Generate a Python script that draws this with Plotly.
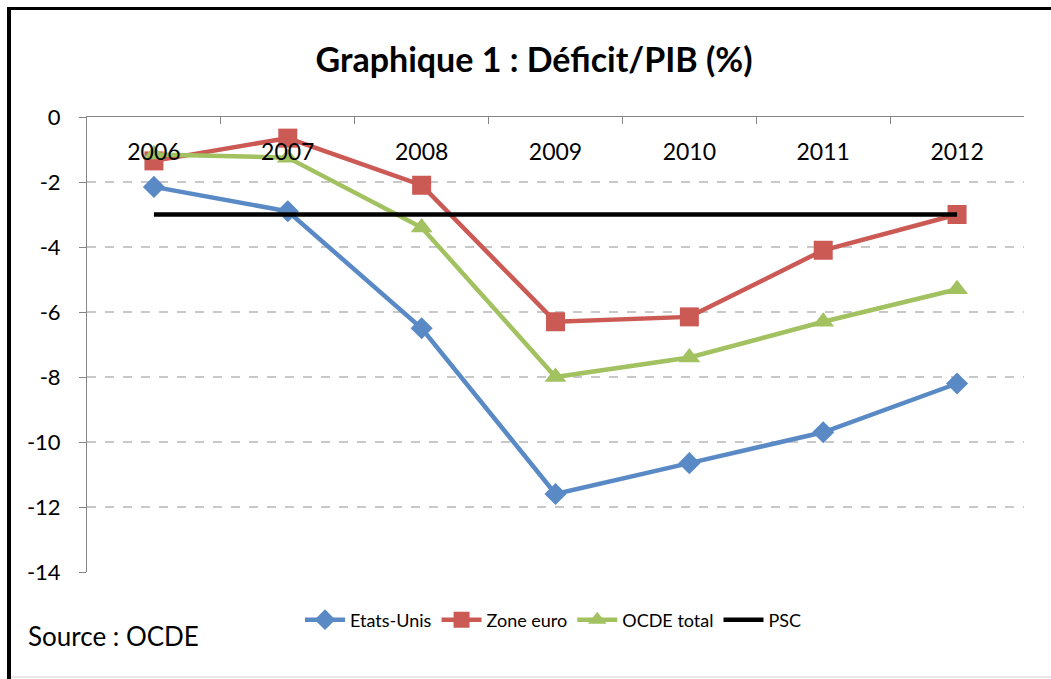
import plotly.graph_objects as go

years = ["2006", "2007", "2008", "2009", "2010", "2011", "2012"]
etats_unis = [-2.15, -2.9, -6.5, -11.6, -10.65, -9.7, -8.2]
zone_euro = [-1.35, -0.65, -2.1, -6.3, -6.15, -4.1, -3.0]
ocde_total = [-1.15, -1.25, -3.4, -8.0, -7.4, -6.3, -5.3]
psc = [-3, -3, -3, -3, -3, -3, -3]
y_ticks = [0, -2, -4, -6, -8, -10, -12, -14]
y_tick_labels = ["0", "-2", "-4", "-6", "-8", "-10", "-12", "-14"]

W, H = 1051, 679
L, R, T, B = 87, 27, 117, 107
pw, ph = W - L - R, H - T - B

def px_x(x):
    return (x - L) / pw

def px_y(y):
    return (H - B - y) / ph

FONT = "Lato, 'Open Sans', sans-serif"

fig = go.Figure()
fig.add_trace(go.Scatter(x=years, y=etats_unis, name="Etats-Unis", mode="lines+markers",
                         line=dict(color="#5A8AC6", width=4.5),
                         marker=dict(symbol="diamond", size=17, color="#5A8AC6")))
fig.add_trace(go.Scatter(x=years, y=zone_euro, name="Zone euro", mode="lines+markers",
                         line=dict(color="#CB5A55", width=4.5),
                         marker=dict(symbol="square", size=19, color="#CB5A55")))
fig.add_trace(go.Scatter(x=years, y=ocde_total, name="OCDE total", mode="lines+markers",
                         line=dict(color="#A2C160", width=4.5),
                         marker=dict(symbol="triangle-up", size=19, color="#A2C160")))
fig.add_trace(go.Scatter(x=years, y=psc, name="PSC", mode="lines",
                         line=dict(color="#000000", width=4.5)))

fig.update_layout(
    width=W, height=H,
    margin=dict(l=L, r=R, t=T, b=B, autoexpand=False),
    paper_bgcolor="white", plot_bgcolor="white",
    font=dict(family=FONT, size=20, color="black"),
    title=dict(text="<b>Graphique 1 : Déficit/PIB (%)</b>", x=534 / W, xref="container",
               xanchor="center", y=1 - 60 / H, yanchor="middle",
               font=dict(size=34, family=FONT)),
    showlegend=True,
    legend=dict(orientation="h", x=300 / W, xref="container", xanchor="left",
                y=1 - 620 / H, yref="container", yanchor="middle",
                font=dict(size=18), itemwidth=40, bgcolor="rgba(0,0,0,0)"),
    xaxis=dict(type="category", side="top", range=[-0.5, 6.5], showline=True,
               linecolor="#868686", linewidth=1, ticks="inside", tickson="boundaries",
               ticklen=7, tickcolor="#868686", ticklabelposition="outside",
               ticklabelstandoff=-53, showgrid=False, zeroline=False, automargin=False,
               tickfont=dict(size=23)),
    yaxis=dict(range=[-14, 0], tickvals=y_ticks, ticktext=y_tick_labels, ticks="outside",
               ticklen=7, tickcolor="#868686", showline=True, linecolor="#868686",
               linewidth=1, showgrid=True, gridcolor="#C8C8C8", griddash="dash",
               gridwidth=1.5, zeroline=False, ticklabelstandoff=14, automargin=False,
               tickfont=dict(size=22)),
    annotations=[dict(text="Source : OCDE", xref="paper", yref="paper",
                      x=px_x(26), y=px_y(636), xanchor="left", yanchor="middle",
                      showarrow=False, font=dict(size=26))],
    shapes=[
        dict(type="line", xref="paper", yref="paper", x0=px_x(9), x1=px_x(9),
             y0=px_y(7), y1=px_y(679), line=dict(color="black", width=4)),
        dict(type="line", xref="paper", yref="paper", x0=px_x(7), x1=px_x(1051),
             y0=px_y(8.5), y1=px_y(8.5), line=dict(color="black", width=3)),
        dict(type="line", xref="paper", yref="paper", x0=px_x(11), x1=px_x(1051),
             y0=px_y(677), y1=px_y(677), line=dict(color="#D0D0D0", width=1)),
    ],
)

fig.write_html("out.html", config={"displayModeBar": False},
               post_script="document.body.style.margin='0';")
